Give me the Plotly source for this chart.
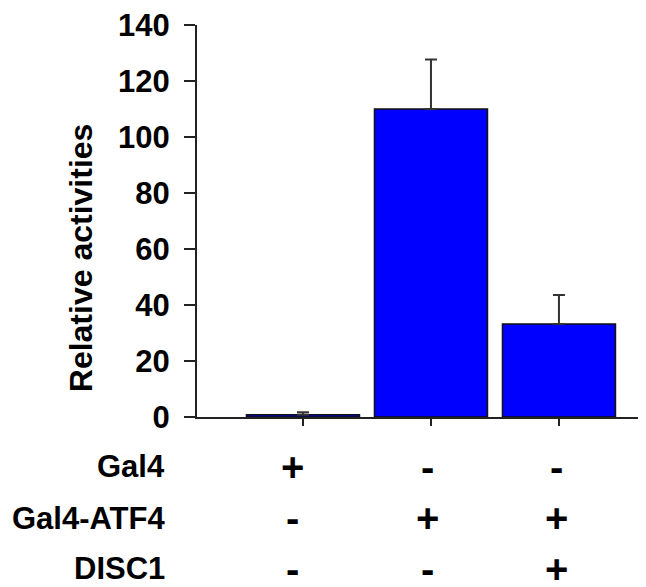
import plotly.graph_objects as go

categories = ["A", "B", "C"]
values = [0.8, 110, 33.2]
err_plus = [0.9, 17.7, 10.4]
y_ticks = [0, 20, 40, 60, 80, 100, 120, 140]
row_labels = ["Gal4", "Gal4-ATF4", "DISC1"]
row_signs = [["+", "-", "-"], ["-", "+", "+"], ["-", "-", "+"]]
y_title = "Relative activities"

OFF = 8  # page body margin
PAGE_W, PAGE_H = 646, 587
W, H = PAGE_W - OFF, PAGE_H - OFF
# plot area in page pixels
X0, X1, Y0, Y1 = 197, 646, 22, 417
L, R, T, B = X0 - OFF, PAGE_W - X1, Y0 - OFF, PAGE_H - Y1
pw, ph = X1 - X0, Y1 - Y0

FONT = "Liberation Sans, Arial, sans-serif"

fig = go.Figure()
fig.add_trace(go.Bar(
    x=list(range(len(categories))),
    y=values,
    marker=dict(color="#0000ff", line=dict(color="#111111", width=1.5)),
    error_y=dict(type="data", symmetric=False, array=err_plus,
                 arrayminus=[0] * len(values),
                 color="#333333", thickness=2, width=6),
    showlegend=False,
))

annotations = []
row_px = [467, 519, 570]
col_shift = [-10, -3, -2]
for r, (lab, signs) in enumerate(zip(row_labels, row_signs)):
    yp = (Y1 - row_px[r]) / ph
    annotations.append(dict(
        text=lab, xref="paper", yref="paper", x=(167 - X0) / pw, y=yp,
        xanchor="right", yanchor="middle", showarrow=False,
        font=dict(family=FONT, size=31, color="black", weight="bold")))
    for i, s in enumerate(signs):
        annotations.append(dict(
            text=s, xref="x", yref="paper", x=i, y=yp, xshift=col_shift[i],
            xanchor="center", yanchor="middle", showarrow=False,
            font=dict(family=FONT, size=40, color="black", weight="bold")))

annotations.append(dict(
    text=y_title, xref="paper", yref="paper", x=(81 - X0) / pw,
    y=(Y1 - 256) / ph, xanchor="center", yanchor="middle",
    textangle=-90, showarrow=False,
    font=dict(family=FONT, size=32, color="black", weight="bold")))

fig.update_layout(
    width=W, height=H,
    margin=dict(l=L, r=R, t=T, b=B, pad=0),
    paper_bgcolor="white", plot_bgcolor="white",
    bargap=0.117,
    xaxis=dict(range=[-0.828, 2.68], showgrid=False, zeroline=False,
               showline=True, linecolor="#222222", linewidth=2,
               ticks="outside", ticklen=7, tickwidth=2, tickcolor="#222222",
               tickvals=[0, 1, 2], showticklabels=False),
    yaxis=dict(range=[0, 140], showgrid=False, zeroline=False,
               showline=True, linecolor="#222222", linewidth=2,
               ticks="outside", ticklen=11, tickwidth=2, tickcolor="#222222",
               tickvals=y_ticks, ticklabelstandoff=8, ticklabeloverflow="allow",
               tickfont=dict(family=FONT, size=31, color="black", weight="bold")),
    annotations=annotations,
)

fig.write_html("out.html")
